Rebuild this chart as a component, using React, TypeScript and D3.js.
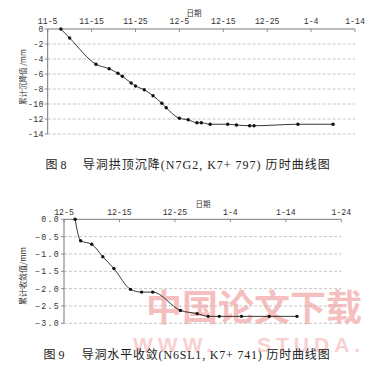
import React from "react";
import * as d3 from "d3";

// Chart 1 data (导洞拱顶沉降)
const dates1 = ["11-8","11-10","11-16","11-19","11-21","11-22","11-24","11-25","11-27","11-29","12-1","12-2","12-5","12-7","12-9","12-10","12-12","12-16","12-18","12-21","12-22","1-1","1-9"];
const vals1 = [0,-1.2,-4.7,-5.3,-5.9,-6.3,-7.2,-7.6,-8.1,-8.9,-9.9,-10.5,-11.9,-12.1,-12.5,-12.5,-12.7,-12.7,-12.8,-12.9,-12.9,-12.7,-12.7];
const xTicks1 = ["11-5","11-15","11-25","12-5","12-15","12-25","1-4","1-14"];
const yTicks1 = [0,-2,-4,-6,-8,-10,-12,-14];

// Chart 2 data (导洞水平收敛)
const dates2 = ["12-7","12-8","12-10","12-12","12-14","12-17","12-19","12-21","12-26","12-29","12-31","1-2","1-6","1-11","1-16"];
const vals2 = [0,-0.62,-0.72,-1.08,-1.42,-2.02,-2.1,-2.1,-2.63,-2.72,-2.8,-2.8,-2.8,-2.8,-2.8];
const xTicks2 = ["12-5","12-15","12-25","1-4","1-14","1-24"];
const yTicks2 = [0,-0.5,-1.0,-1.5,-2.0,-2.5,-3.0];

const parse = (s: string) => {
  const [m, d] = s.split("-").map(Number);
  return new Date(m >= 11 ? 2009 : 2010, m - 1, d);
};

const MONO = "'Liberation Mono', 'DejaVu Sans Mono', monospace";
const CJK = "'Noto Sans CJK SC', sans-serif";
const CAP = "'Liberation Serif', 'Noto Sans CJK SC', serif";

type ChartProps = {
  dates: string[];
  vals: number[];
  xTicks: string[];
  yTicks: number[];
  x0: number; x1: number; y0: number; y1: number;
  yFmt: (v: number) => string;
  ySpacing: number;
  yTitle: string;
  yTitleX: number; yTitleY: number; yTitleSize: number;
  dateLabelX: number; dateLabelY: number;
  tickLabelY: number;
};

function Chart(p: ChartProps) {
  const x = d3.scaleTime()
    .domain([parse(p.xTicks[0]), parse(p.xTicks[p.xTicks.length - 1])])
    .range([p.x0, p.x1]);
  const y = d3.scaleLinear()
    .domain([p.yTicks[0], p.yTicks[p.yTicks.length - 1]])
    .range([p.y0, p.y1]);
  const pts: [number, number][] = p.dates.map((d, i) => [x(parse(d)), y(p.vals[i])]);
  const line = d3.line().curve(d3.curveMonotoneX)(pts) || "";
  return (
    <g>
      {p.yTicks.slice(1).map((t) => (
        <line key={"g" + t} x1={p.x0} x2={p.x1} y1={y(t)} y2={y(t)} stroke="#b8b8b8" strokeWidth={0.8} strokeDasharray="3,2" />
      ))}
      <line x1={p.x0} x2={p.x1} y1={p.y0} y2={p.y0} stroke="#777" strokeWidth={1} />
      <line x1={p.x0} x2={p.x0} y1={p.y0} y2={p.y1} stroke="#777" strokeWidth={1} />
      {p.xTicks.map((t) => (
        <g key={"x" + t}>
          <line x1={x(parse(t))} x2={x(parse(t))} y1={p.y0} y2={p.y0 + 3} stroke="#777" strokeWidth={0.8} />
          <text x={x(parse(t))} y={p.tickLabelY} textAnchor="middle" fontFamily={MONO} fontSize={8.2} fill="#333">{t}</text>
        </g>
      ))}
      {p.yTicks.map((t) => (
        <g key={"y" + t}>
          <line x1={p.x0 - 3} x2={p.x0} y1={y(t)} y2={y(t)} stroke="#777" strokeWidth={0.8} />
          <text x={p.x0 - 4} y={y(t) + 3} textAnchor="end" fontFamily={MONO} fontSize={8.2} letterSpacing={p.ySpacing} fill="#333">{p.yFmt(t)}</text>
        </g>
      ))}
      <text x={p.dateLabelX} y={p.dateLabelY} textAnchor="middle" fontFamily={CJK} fontSize={7.5} fill="#333">日期</text>
      <text transform={`translate(${p.yTitleX},${p.yTitleY}) rotate(-90)`} textAnchor="middle" fontFamily={CJK} fontSize={p.yTitleSize} fill="#333">{p.yTitle}</text>
      <path d={line} fill="none" stroke="#222" strokeWidth={0.9} />
      {pts.map((q, i) => (
        <circle key={"p" + i} cx={q[0]} cy={q[1]} r={1.7} fill="#111" />
      ))}
    </g>
  );
}

export default function App() {
  return (
    <svg width={372} height={377} style={{ display: "block", position: "absolute", left: 0, top: 0, background: "#fff" }}>
      <rect width={372} height={377} fill="#fff" />
      <g>
        <text x={146} y={320.5} fontFamily={CJK} fontWeight={700} fontSize={36} fill="#f08c8c" opacity={0.55}>中国论文下载</text>
        <text x={133} y={352} fontFamily="'Liberation Sans', sans-serif" fontWeight={700} fontSize={21} letterSpacing={5} fill="#f08c8c" opacity={0.4}>WWW.</text>
        <text x={257} y={352} fontFamily="'Liberation Sans', sans-serif" fontWeight={700} fontSize={21} letterSpacing={5} fill="#f08c8c" opacity={0.4}>STUDA.</text>
      </g>
      <Chart
        dates={dates1} vals={vals1} xTicks={xTicks1} yTicks={yTicks1}
        x0={47.7} x1={355} y0={29} y1={134}
        yFmt={(v) => String(v)} ySpacing={0.3}
        yTitle="累计沉降值 /mm" yTitleX={25.5} yTitleY={77} yTitleSize={7.5}
        dateLabelX={194} dateLabelY={16} tickLabelY={23.5}
      />
      <Chart
        dates={dates2} vals={vals2} xTicks={xTicks2} yTicks={yTicks2}
        x0={64} x1={341.3} y0={219.3} y1={323.3}
        yFmt={(v) => d3.format(".1f")(v)} ySpacing={1.3}
        yTitle="累计收敛值/mm" yTitleX={25.5} yTitleY={276} yTitleSize={8}
        dateLabelX={203} dateLabelY={206.5} tickLabelY={215}
      />
      <text x={45.5} y={168.5} fontFamily={CAP} fontSize={12} fill="#222">图 8</text>
      <text x={82.7} y={168.5} fontFamily={CAP} fontSize={12} fill="#222" textLength={247} lengthAdjust="spacing">导洞拱顶沉降(N7G2, K7+ 797) 历时曲线图</text>
      <text x={43.5} y={358.5} fontFamily={CAP} fontSize={12} fill="#222">图 9</text>
      <text x={81.7} y={358.5} fontFamily={CAP} fontSize={12} fill="#222" textLength={248} lengthAdjust="spacing">导洞水平收敛(N6SL1, K7+ 741) 历时曲线图</text>
    </svg>
  );
}
